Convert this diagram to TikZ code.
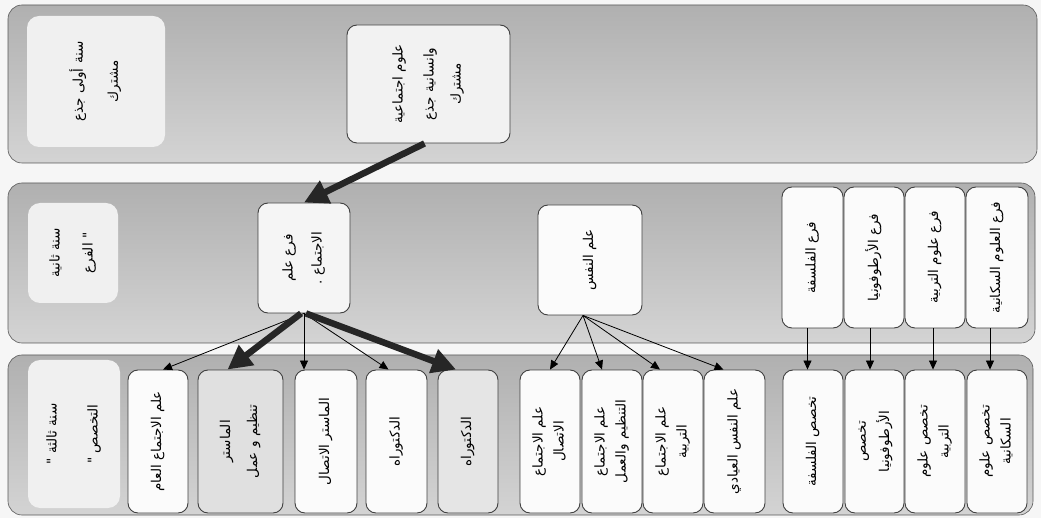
\documentclass[tikz,border=0pt]{standalone}
\usepackage{fontspec}
\usetikzlibrary{arrows.meta,calc}
\newfontfamily\arabicfont[Script=Arabic]{DejaVu Sans}
\TeXXeTstate=1
\newcommand{\AR}[1]{\beginR #1\endR}
\newcommand{\RT}[1]{\rotatebox{90}{\begin{tabular}{@{}c@{}}#1\end{tabular}}}
\tikzset{
  band/.style={draw=gray!70!black, line width=0.6pt, rounded corners=14pt, top color=gray!62, bottom color=gray!34, inner sep=0pt},
  lab/.style={fill=gray!12, rounded corners=12pt, inner sep=0pt, font=\arabicfont\fontsize{13.5}{15}\selectfont},
  box/.style={draw=black!75, line width=0.9pt, fill=gray!3, rounded corners=10pt, inner sep=0pt, font=\arabicfont\fontsize{13.5}{15}\selectfont},
  gbox/.style={box, fill=gray!24},
  thin/.style={draw=black, line width=0.8pt, -{Triangle[length=9pt,width=8pt]}},
  thick/.style={draw=black!85, line width=6.5pt, -{Triangle[length=24pt,width=24pt]}}
}
\begin{document}
\begin{tikzpicture}[x=1pt,y=-1pt]
\useasboundingbox[fill=gray!7] (0,0) rectangle (1041,518);
% bands
\node[band, minimum width=1029pt, minimum height=158pt] (band1) at (522.5,84) {};
\node[band, minimum width=1027pt, minimum height=160pt] (band2) at (521.5,263) {};
\node[band, minimum width=1025pt, minimum height=160pt] (band3) at (520.5,435) {};
% labels
\node[lab, minimum width=138pt, minimum height=131pt] (L1) at (96,81.5) {\RT{\AR{سنة أولى جذع}\\[20pt]\AR{مشترك}}};
\node[lab, minimum width=90pt, minimum height=100pt] (L2) at (73,253) {\RT{\AR{سنة ثانية}\\[18pt]\AR{" الفرع}}};
\node[lab, minimum width=92pt, minimum height=148pt] (L3) at (74,434) {\RT{\AR{سنة ثالثة "}\\[26pt]\AR{التخصص "}}};
% band 1 node
\node[box, fill=gray!10, minimum width=163pt, minimum height=118pt] (B1) at (428.5,84) {\RT{\AR{علوم اجتماعية}\\[16pt]\AR{وانسانية جذع}\\[12pt]\AR{مشترك}}};
% band 2 nodes
\node[box, fill=gray!8, minimum width=92pt, minimum height=110pt] (soc) at (304,258) {\RT{\AR{فرع علم}\\[14pt]\AR{الاجتماع .}}};
\node[box, minimum width=104pt, minimum height=110pt] (psy) at (590,260) {\RT{\AR{علم النفس}}};
\node[box, minimum width=61pt, minimum height=141pt] (F1) at (812.5,257.5) {\RT{\AR{فرع الفلسفة}}};
\node[box, minimum width=60pt, minimum height=141pt] (F2) at (874,257.5) {\RT{\AR{فرع الأرطوفونيا}}};
\node[box, minimum width=60pt, minimum height=141pt] (F3) at (935,257.5) {\RT{\AR{فرع علوم التربية}}};
\node[box, minimum width=62pt, minimum height=141pt] (F4) at (997,257.5) {\RT{\AR{فرع العلوم السكانية}}};
% band 3 nodes
\node[box, minimum width=60pt, minimum height=143pt] (gen) at (158,441.5) {\RT{\AR{علم الاجتماع العام}}};
\node[gbox, minimum width=85pt, minimum height=143pt] (m1) at (240.5,441.5) {\RT{\AR{الماستر}\\[12pt]\AR{تنظيم و عمل}}};
\node[box, minimum width=62pt, minimum height=143pt] (m2) at (326,441.5) {\RT{\AR{الماستر الاتصال}}};
\node[box, minimum width=61pt, minimum height=143pt] (d1) at (396.5,441.5) {\RT{\AR{الدكتوراه}}};
\node[gbox, fill=gray!20, minimum width=60pt, minimum height=143pt] (d2) at (468,441.5) {\RT{\AR{الدكتوراه}}};
\node[box, minimum width=60pt, minimum height=143pt] (p1) at (550,441.5) {\RT{\AR{علم الاجتماع}\\[6pt]\AR{الاتصال}}};
\node[box, minimum width=60pt, minimum height=143pt] (p2) at (612,441.5) {\RT{\AR{علم الاجتماع}\\[6pt]\AR{التنظيم والعمل}}};
\node[box, minimum width=60pt, minimum height=143pt] (p3) at (673,441.5) {\RT{\AR{علم الاجتماع}\\[6pt]\AR{التربية}}};
\node[box, minimum width=61pt, minimum height=143pt] (p4) at (734.5,441.5) {\RT{\AR{علم النفس العيادي}}};
\node[box, minimum width=60pt, minimum height=143pt] (s1) at (813,441.5) {\RT{\AR{تخصص الفلسفة}}};
\node[box, minimum width=59pt, minimum height=143pt] (s2) at (874.5,441.5) {\RT{\AR{تخصص}\\[6pt]\AR{الأرطوفونيا}}};
\node[box, minimum width=60pt, minimum height=143pt] (s3) at (935,441.5) {\RT{\AR{تخصص علوم}\\[6pt]\AR{التربية}}};
\node[box, minimum width=60pt, minimum height=143pt] (s4) at (997,441.5) {\RT{\AR{تخصص علوم}\\[6pt]\AR{السكانية}}};
% arrows
\draw[thick] ([xshift=-4pt]B1.south) -- (soc.north);
\draw[thin] (soc.south) -- ([xshift=5pt]gen.north);
\draw[thick] ([xshift=-3pt]soc.south) -- ([xshift=-13pt]m1.north);
\draw[thin] (soc.south) -- (soc.south |- m2.north);
\draw[thin] (soc.south) -- ([xshift=-8pt]d1.north);
\draw[thick] ([xshift=2pt]soc.south) -- ([xshift=-12pt]d2.north);
\draw[thin] ([xshift=-7pt]psy.south) -- (p1.north);
\draw[thin] ([xshift=-7pt]psy.south) -- ([xshift=-10pt]p2.north);
\draw[thin] ([xshift=-7pt]psy.south) -- ([xshift=-13pt]p3.north);
\draw[thin] ([xshift=-7pt]psy.south) -- ([xshift=-11pt]p4.north);
\draw[thin] ([xshift=-5pt]F1.south) -- ([xshift=-5pt]F1.south |- s1.north);
\draw[thin] ([xshift=-4pt]F2.south) -- ([xshift=-4pt]F2.south |- s2.north);
\draw[thin] ([xshift=-2pt]F3.south) -- ([xshift=-2pt]F3.south |- s3.north);
\draw[thin] ([xshift=-7pt]F4.south) -- ([xshift=-7pt]F4.south |- s4.north);
\end{tikzpicture}
\end{document}
